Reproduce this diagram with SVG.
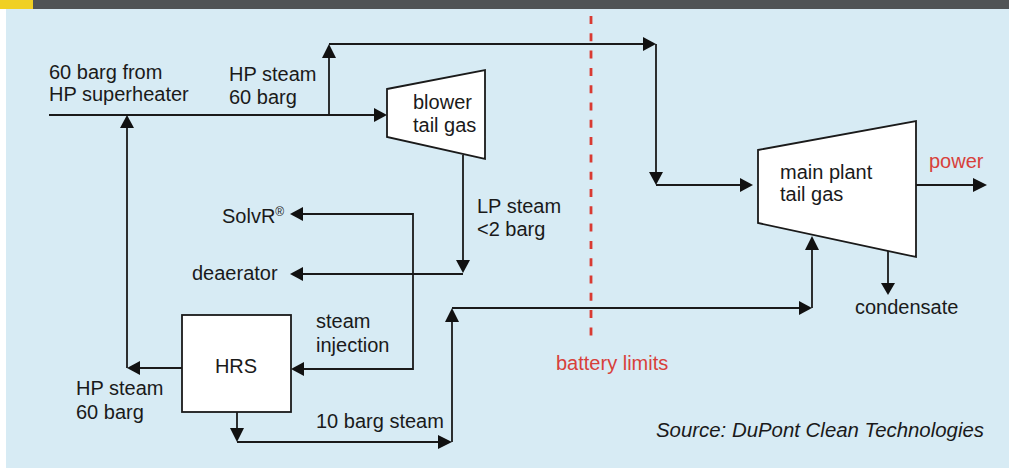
<svg xmlns="http://www.w3.org/2000/svg" width="1009" height="468" viewBox="0 0 1009 468">
<style>
.t{font-family:"Liberation Sans",Arial,sans-serif;font-size:20px;fill:#1a1a1a}
.r{fill:#d8403a}
.src{font-style:italic}
.ln{fill:none;stroke:#1a1a1a;stroke-width:1.8}
.shape{fill:#ffffff;stroke:#1a1a1a;stroke-width:1.8}
.ah{fill:#111111}
</style>
<rect x="0" y="0" width="1009" height="468" fill="#ffffff"/>
<rect x="6" y="9" width="1003" height="459" fill="#d7ebf4"/>
<rect x="0" y="0" width="1009" height="9" fill="#505456"/>
<rect x="0" y="0" width="33" height="9" fill="#f0d024"/>

<g id="battery-limits">
<line x1="591" y1="16" x2="591" y2="343" stroke="#d93a32" stroke-width="2.8" stroke-dasharray="8,9.3"/>
<text class="t r" x="556" y="370">battery limits</text>
</g>

<g id="connectors">
<!-- main HP line -->
<polyline class="ln" points="49,115 376,115"/>
<polygon class="ah" points="387,115 374,108 374,122"/>
<!-- branch up and over -->
<polyline class="ln" points="329,115 329,57"/>
<polygon class="ah" points="329,44 322,58 336,58"/>
<polyline class="ln" points="329,44 645,44"/>
<polygon class="ah" points="656,44 643,37 643,51"/>
<polyline class="ln" points="656,44 656,174"/>
<polygon class="ah" points="656,185 649,172 663,172"/>
<polyline class="ln" points="656,185 742,185"/>
<polygon class="ah" points="753,185 740,178 740,192"/>
<!-- power -->
<polyline class="ln" points="916,185 975,185"/>
<polygon class="ah" points="987,185 973,178 973,192"/>
<!-- condensate -->
<polyline class="ln" points="888,251 888,284"/>
<polygon class="ah" points="888,295 881,283 895,283"/>
<!-- blower LP steam down -->
<polyline class="ln" points="463,155 463,262"/>
<polygon class="ah" points="463,273 456,260 470,260"/>
<polyline class="ln" points="463,274 301,274"/>
<polygon class="ah" points="290,274 303,267 303,281"/>
<!-- SolvR / steam injection loop -->
<polyline class="ln" points="301,214 413,214 413,369 302,369"/>
<polygon class="ah" points="290,214 303,207 303,221"/>
<polygon class="ah" points="291,369 304,362 304,376"/>
<!-- HRS HP steam -->
<polyline class="ln" points="182,368 138,368"/>
<polygon class="ah" points="127,368 140,361 140,375"/>
<polyline class="ln" points="127,368 127,126"/>
<polygon class="ah" points="127,115 120,128 134,128"/>
<!-- HRS 10 barg steam -->
<polyline class="ln" points="237,412 237,430"/>
<polygon class="ah" points="237,442 230,428 244,428"/>
<polyline class="ln" points="237,442 440,442"/>
<polygon class="ah" points="452,442 438,435 438,449"/>
<polyline class="ln" points="452,442 452,320"/>
<polygon class="ah" points="452,308 445,322 459,322"/>
<polyline class="ln" points="452,308 800,308"/>
<polygon class="ah" points="812,308 799,301 799,315"/>
<polyline class="ln" points="812,308 812,248"/>
<polygon class="ah" points="812,236 805,250 819,250"/>
</g>

<g id="blower">
<polygon class="shape" points="387,89 485,70 485,159 387,137"/>
<text class="t" x="413" y="109">blower</text>
<text class="t" x="413" y="132">tail gas</text>
</g>

<g id="main-plant">
<polygon class="shape" points="758,150 916,121 916,257 758,223"/>
<text class="t" x="780" y="179">main plant</text>
<text class="t" x="780" y="201">tail gas</text>
</g>

<g id="hrs">
<rect class="shape" x="182" y="315" width="109" height="97"/>
<text class="t" x="236" y="373" text-anchor="middle">HRS</text>
</g>

<g id="labels">
<text class="t" x="49" y="79">60 barg from</text>
<text class="t" x="49" y="101">HP superheater</text>
<text class="t" x="229" y="81">HP steam</text>
<text class="t" x="229" y="104">60 barg</text>
<text class="t" x="477" y="213">LP steam</text>
<text class="t" x="477" y="236">&lt;2 barg</text>
<text class="t" x="222" y="223">SolvR<tspan font-size="12" dy="-7">®</tspan></text>
<text class="t" x="192" y="280">deaerator</text>
<text class="t" x="316" y="328">steam</text>
<text class="t" x="316" y="352">injection</text>
<text class="t" x="76" y="395">HP steam</text>
<text class="t" x="76" y="419">60 barg</text>
<text class="t" x="316" y="428">10 barg steam</text>
<text class="t" x="855" y="314">condensate</text>
<text class="t r" x="929" y="168">power</text>
<text class="t src" x="656" y="437" textLength="328" lengthAdjust="spacingAndGlyphs">Source: DuPont Clean Technologies</text>
</g>
</svg>
